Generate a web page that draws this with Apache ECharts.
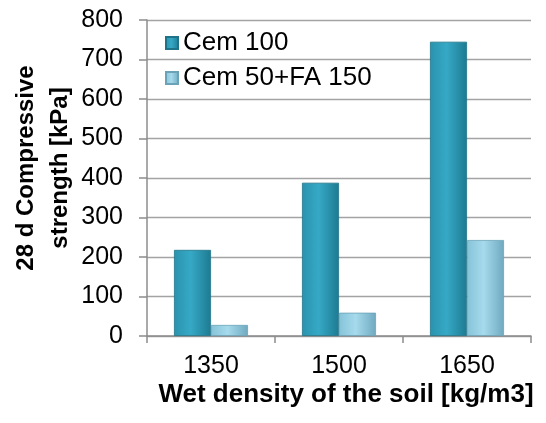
<!DOCTYPE html>
<html><head><meta charset="utf-8">
<script src="https://cdn.jsdelivr.net/npm/echarts@6/dist/echarts.min.js"></script>
<style>html,body{margin:0;padding:0;background:#fff}#c{width:546px;height:423px}</style>
</head><body><div id="c"></div>
<script>
const categories = ['1350', '1500', '1650'];
const cem100 = [218, 388, 745];
const cem50fa150 = [28, 59, 243];
const seriesNames = ['Cem 100', 'Cem 50+FA 150'];
const yTicks = [0, 100, 200, 300, 400, 500, 600, 700, 800];

const chart = echarts.init(document.getElementById('c'), null, {renderer: 'canvas'});
function grad(l, m, r) {
  return new echarts.graphic.LinearGradient(0, 0, 1, 0, [
    {offset: 0, color: l}, {offset: 0.45, color: m}, {offset: 1, color: r}
  ]);
}
const font = 'Liberation Sans, Arial, sans-serif';
chart.setOption({
  animation: false,
  textStyle: {fontFamily: font},
  grid: {left: 147, right: 15, top: 20, bottom: 87, containLabel: false, outerBoundsMode: 'none'},
  legend: {
    left: 160, top: 25, orient: 'vertical', itemGap: 9,
    itemWidth: 12, itemHeight: 12, icon: 'rect',
    textStyle: {fontSize: 26, color: '#000', fontFamily: font, padding: [0, 0, 0, 0]},
    data: seriesNames
  },
  xAxis: {
    type: 'category', data: categories,
    name: 'Wet density of the soil [kg/m3]', nameLocation: 'middle', nameGap: 46, nameMoveOverlap: false,
    nameTextStyle: {fontSize: 26, fontWeight: 'bold', color: '#000', fontFamily: font, padding: [0, 0, 0, 14]},
    axisLine: {lineStyle: {color: '#8c8c8c', width: 1.5}},
    axisTick: {show: true, length: 7, lineStyle: {color: '#8c8c8c', width: 1.5}},
    axisLabel: {fontSize: 25, color: '#000', margin: 18, fontFamily: font}
  },
  yAxis: {
    type: 'value', min: yTicks[0], max: yTicks[yTicks.length - 1], interval: yTicks[1] - yTicks[0],
    name: '28 d Compressive\nstrength [kPa]', nameLocation: 'middle', nameGap: 70, nameMoveOverlap: false,
    nameTextStyle: {fontSize: 24, fontWeight: 'bold', color: '#000', fontFamily: font, lineHeight: 34, padding: [0, 0, 0, 20]},
    axisLine: {show: true, lineStyle: {color: '#8c8c8c', width: 1.5}},
    axisTick: {show: true, length: 8, lineStyle: {color: '#8c8c8c', width: 1.5}},
    axisLabel: {fontSize: 25, color: '#000', margin: 24, fontFamily: font},
    splitLine: {lineStyle: {color: '#a3a3a3', width: 1.3}}
  },
  series: [
    {
      name: seriesNames[0], type: 'bar', data: cem100, barWidth: 37, barGap: '0%',
      itemStyle: {color: grad('#2a93ae', '#36a9c6', '#1e7a92'), borderColor: '#1f7389', borderWidth: 0.8}
    },
    {
      name: seriesNames[1], type: 'bar', data: cem50fa150, barWidth: 37,
      itemStyle: {color: grad('#86c3d8', '#a6daec', '#6fa9c0'), borderColor: '#6aa3b8', borderWidth: 0.8}
    }
  ]
});
</script></body></html>
